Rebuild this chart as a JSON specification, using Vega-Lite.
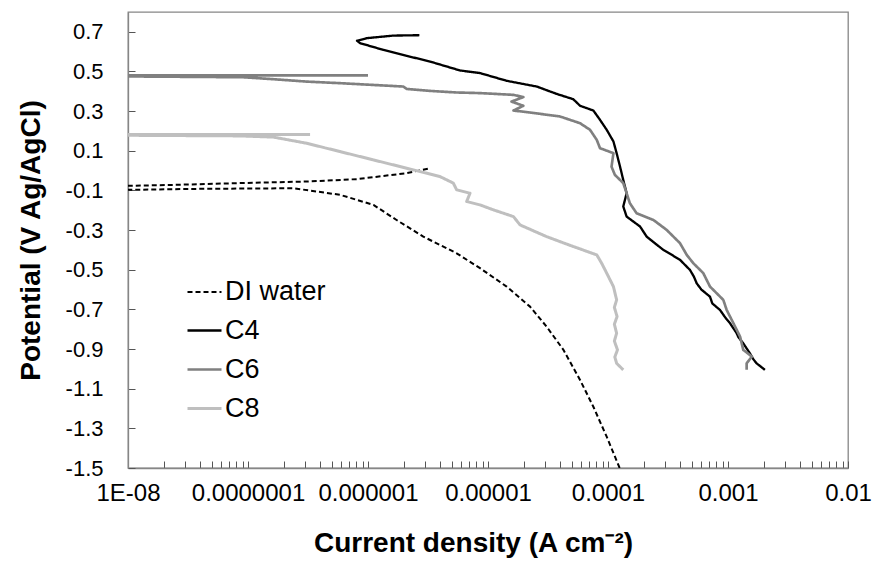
{
  "$schema": "https://vega.github.io/schema/vega-lite/v6.json",
  "width": 720,
  "height": 456,
  "autosize": {"type": "none"},
  "padding": {"left": 128, "top": 12, "right": 25, "bottom": 97},
  "background": "white",
  "config": {
    "font": "Liberation Sans",
    "view": {"stroke": "#868686", "strokeWidth": 1.3},
    "axis": {
      "grid": false,
      "domainColor": "#868686",
      "domainWidth": 1.3,
      "tickColor": "#555555",
      "tickWidth": 1,
      "tickSize": -7,
      "labelColor": "#000000",
      "labelFont": "Liberation Sans",
      "labelFontSize": 22,
      "titleFont": "Liberation Sans",
      "titleFontSize": 28,
      "titleFontWeight": "bold",
      "titleColor": "#000000"
    },
    "legend": {
      "symbolType": "stroke",
      "symbolSize": 1156,
      "labelFont": "Liberation Sans",
      "labelFontSize": 27,
      "labelColor": "#000000",
      "labelOffset": 2,
      "rowPadding": 7
    }
  },
  "data": {
    "values": [
      {"s": "DI water", "i": 1, "j": 1.25e-4, "E": -1.5},
      {"s": "DI water", "i": 2, "j": 9.75e-5, "E": -1.342},
      {"s": "DI water", "i": 3, "j": 7.55e-5, "E": -1.191},
      {"s": "DI water", "i": 4, "j": 5.85e-5, "E": -1.056},
      {"s": "DI water", "i": 5, "j": 4.25e-5, "E": -0.904},
      {"s": "DI water", "i": 6, "j": 3.08e-5, "E": -0.787},
      {"s": "DI water", "i": 7, "j": 2.24e-5, "E": -0.686},
      {"s": "DI water", "i": 8, "j": 1.43e-5, "E": -0.585},
      {"s": "DI water", "i": 9, "j": 8.58e-6, "E": -0.492},
      {"s": "DI water", "i": 10, "j": 5.48e-6, "E": -0.417},
      {"s": "DI water", "i": 11, "j": 2.89e-6, "E": -0.333},
      {"s": "DI water", "i": 12, "j": 1.73e-6, "E": -0.249},
      {"s": "DI water", "i": 13, "j": 1.11e-6, "E": -0.173},
      {"s": "DI water", "i": 14, "j": 5.85e-7, "E": -0.122},
      {"s": "DI water", "i": 15, "j": 2.39e-7, "E": -0.089},
      {"s": "DI water", "i": 16, "j": 4e-8, "E": -0.092},
      {"s": "DI water", "i": 17, "j": 1e-8, "E": -0.097},
      {"s": "DI water", "i": 18, "j": 1e-8, "E": -0.077},
      {"s": "DI water", "i": 19, "j": 2.39e-8, "E": -0.072},
      {"s": "DI water", "i": 20, "j": 8.58e-8, "E": -0.063},
      {"s": "DI water", "i": 21, "j": 3.08e-7, "E": -0.055},
      {"s": "DI water", "i": 22, "j": 8.06e-7, "E": -0.043},
      {"s": "DI water", "i": 23, "j": 2.1e-6, "E": -0.013},
      {"s": "DI water", "i": 24, "j": 3.29e-6, "E": 0.012},

      {"s": "C4", "i": 1, "j": 2.03e-3, "E": -1.005},
      {"s": "C4", "i": 2, "j": 1.73e-3, "E": -0.972},
      {"s": "C4", "i": 3, "j": 1.62e-3, "E": -0.95},
      {"s": "C4", "i": 4, "j": 1.52e-3, "E": -0.921},
      {"s": "C4", "i": 5, "j": 1.34e-3, "E": -0.871},
      {"s": "C4", "i": 6, "j": 1.22e-3, "E": -0.84},
      {"s": "C4", "i": 7, "j": 1.18e-3, "E": -0.82},
      {"s": "C4", "i": 8, "j": 1.04e-3, "E": -0.77},
      {"s": "C4", "i": 9, "j": 9.6e-4, "E": -0.745},
      {"s": "C4", "i": 10, "j": 8.58e-4, "E": -0.703},
      {"s": "C4", "i": 11, "j": 7.4e-4, "E": -0.67},
      {"s": "C4", "i": 12, "j": 7.08e-4, "E": -0.636},
      {"s": "C4", "i": 13, "j": 6.0e-4, "E": -0.6},
      {"s": "C4", "i": 14, "j": 5.48e-4, "E": -0.568},
      {"s": "C4", "i": 15, "j": 5.2e-4, "E": -0.535},
      {"s": "C4", "i": 16, "j": 4.82e-4, "E": -0.501},
      {"s": "C4", "i": 17, "j": 3.98e-4, "E": -0.45},
      {"s": "C4", "i": 18, "j": 3.4e-4, "E": -0.425},
      {"s": "C4", "i": 19, "j": 2.89e-4, "E": -0.4},
      {"s": "C4", "i": 20, "j": 2.1e-4, "E": -0.333},
      {"s": "C4", "i": 21, "j": 1.85e-4, "E": -0.282},
      {"s": "C4", "i": 22, "j": 1.43e-4, "E": -0.232},
      {"s": "C4", "i": 23, "j": 1.34e-4, "E": -0.181},
      {"s": "C4", "i": 24, "j": 1.43e-4, "E": -0.114},
      {"s": "C4", "i": 25, "j": 1.34e-4, "E": -0.047},
      {"s": "C4", "i": 26, "j": 1.26e-4, "E": 0.02},
      {"s": "C4", "i": 27, "j": 1.18e-4, "E": 0.088},
      {"s": "C4", "i": 28, "j": 1.11e-4, "E": 0.147},
      {"s": "C4", "i": 29, "j": 9.75e-5, "E": 0.206},
      {"s": "C4", "i": 30, "j": 8.58e-5, "E": 0.256},
      {"s": "C4", "i": 31, "j": 7.55e-5, "E": 0.303},
      {"s": "C4", "i": 32, "j": 5.85e-5, "E": 0.327},
      {"s": "C4", "i": 33, "j": 5.14e-5, "E": 0.36},
      {"s": "C4", "i": 34, "j": 3.73e-5, "E": 0.387},
      {"s": "C4", "i": 35, "j": 2.55e-5, "E": 0.424},
      {"s": "C4", "i": 36, "j": 1.43e-5, "E": 0.453},
      {"s": "C4", "i": 37, "j": 8.58e-6, "E": 0.492},
      {"s": "C4", "i": 38, "j": 5.85e-6, "E": 0.505},
      {"s": "C4", "i": 39, "j": 3.29e-6, "E": 0.55},
      {"s": "C4", "i": 40, "j": 2.1e-6, "E": 0.579},
      {"s": "C4", "i": 41, "j": 1.34e-6, "E": 0.609},
      {"s": "C4", "i": 42, "j": 8.58e-7, "E": 0.643},
      {"s": "C4", "i": 43, "j": 8.1e-7, "E": 0.655},
      {"s": "C4", "i": 44, "j": 9.75e-7, "E": 0.668},
      {"s": "C4", "i": 45, "j": 1.63e-6, "E": 0.681},
      {"s": "C4", "i": 46, "j": 2.68e-6, "E": 0.683},

      {"s": "C6", "i": 1, "j": 1.43e-3, "E": -1.005},
      {"s": "C6", "i": 2, "j": 1.43e-3, "E": -0.972},
      {"s": "C6", "i": 3, "j": 1.58e-3, "E": -0.938},
      {"s": "C6", "i": 4, "j": 1.34e-3, "E": -0.904},
      {"s": "C6", "i": 5, "j": 1.26e-3, "E": -0.837},
      {"s": "C6", "i": 6, "j": 1.11e-3, "E": -0.77},
      {"s": "C6", "i": 7, "j": 9.75e-4, "E": -0.703},
      {"s": "C6", "i": 8, "j": 9.14e-4, "E": -0.652},
      {"s": "C6", "i": 9, "j": 7.08e-4, "E": -0.585},
      {"s": "C6", "i": 10, "j": 6.22e-4, "E": -0.517},
      {"s": "C6", "i": 11, "j": 5.14e-4, "E": -0.467},
      {"s": "C6", "i": 12, "j": 4.53e-4, "E": -0.425},
      {"s": "C6", "i": 13, "j": 3.98e-4, "E": -0.366},
      {"s": "C6", "i": 14, "j": 3.08e-4, "E": -0.299},
      {"s": "C6", "i": 15, "j": 2.39e-4, "E": -0.249},
      {"s": "C6", "i": 16, "j": 1.73e-4, "E": -0.215},
      {"s": "C6", "i": 17, "j": 1.52e-4, "E": -0.164},
      {"s": "C6", "i": 18, "j": 1.43e-4, "E": -0.114},
      {"s": "C6", "i": 19, "j": 1.34e-4, "E": -0.063},
      {"s": "C6", "i": 20, "j": 1.14e-4, "E": -0.021},
      {"s": "C6", "i": 21, "j": 1.07e-4, "E": 0.02},
      {"s": "C6", "i": 22, "j": 1.11e-4, "E": 0.088},
      {"s": "C6", "i": 23, "j": 8.58e-5, "E": 0.113},
      {"s": "C6", "i": 24, "j": 8.06e-5, "E": 0.155},
      {"s": "C6", "i": 25, "j": 7.08e-5, "E": 0.206},
      {"s": "C6", "i": 26, "j": 5.85e-5, "E": 0.239},
      {"s": "C6", "i": 27, "j": 3.98e-5, "E": 0.273},
      {"s": "C6", "i": 28, "j": 2.24e-5, "E": 0.293},
      {"s": "C6", "i": 29, "j": 1.63e-5, "E": 0.303},
      {"s": "C6", "i": 30, "j": 1.97e-5, "E": 0.327},
      {"s": "C6", "i": 31, "j": 1.57e-5, "E": 0.348},
      {"s": "C6", "i": 32, "j": 1.97e-5, "E": 0.371},
      {"s": "C6", "i": 33, "j": 1.63e-5, "E": 0.382},
      {"s": "C6", "i": 34, "j": 8.58e-6, "E": 0.391},
      {"s": "C6", "i": 35, "j": 5.48e-6, "E": 0.394},
      {"s": "C6", "i": 36, "j": 3.29e-6, "E": 0.402},
      {"s": "C6", "i": 37, "j": 2.1e-6, "E": 0.412},
      {"s": "C6", "i": 38, "j": 1.97e-6, "E": 0.424},
      {"s": "C6", "i": 39, "j": 5.85e-7, "E": 0.441},
      {"s": "C6", "i": 40, "j": 3.08e-7, "E": 0.449},
      {"s": "C6", "i": 41, "j": 1.63e-7, "E": 0.461},
      {"s": "C6", "i": 42, "j": 9.14e-8, "E": 0.471},
      {"s": "C6", "i": 43, "j": 1e-8, "E": 0.475},
      {"s": "C6", "i": 44, "j": 1e-8, "E": 0.48},
      {"s": "C6", "i": 45, "j": 1e-6, "E": 0.48},

      {"s": "C8", "i": 1, "j": 1.34e-4, "E": -1.005},
      {"s": "C8", "i": 2, "j": 1.18e-4, "E": -0.972},
      {"s": "C8", "i": 3, "j": 1.14e-4, "E": -0.94},
      {"s": "C8", "i": 4, "j": 1.2e-4, "E": -0.904},
      {"s": "C8", "i": 5, "j": 1.13e-4, "E": -0.86},
      {"s": "C8", "i": 6, "j": 1.18e-4, "E": -0.82},
      {"s": "C8", "i": 7, "j": 1.13e-4, "E": -0.775},
      {"s": "C8", "i": 8, "j": 1.19e-4, "E": -0.736},
      {"s": "C8", "i": 9, "j": 1.13e-4, "E": -0.69},
      {"s": "C8", "i": 10, "j": 1.18e-4, "E": -0.652},
      {"s": "C8", "i": 11, "j": 1.11e-4, "E": -0.585},
      {"s": "C8", "i": 12, "j": 9.75e-5, "E": -0.517},
      {"s": "C8", "i": 13, "j": 8.85e-5, "E": -0.467},
      {"s": "C8", "i": 14, "j": 8.06e-5, "E": -0.425},
      {"s": "C8", "i": 15, "j": 5.14e-5, "E": -0.383},
      {"s": "C8", "i": 16, "j": 3.08e-5, "E": -0.333},
      {"s": "C8", "i": 17, "j": 1.85e-5, "E": -0.274},
      {"s": "C8", "i": 18, "j": 1.63e-5, "E": -0.232},
      {"s": "C8", "i": 19, "j": 1.11e-5, "E": -0.198},
      {"s": "C8", "i": 20, "j": 8.58e-6, "E": -0.173},
      {"s": "C8", "i": 21, "j": 6.64e-6, "E": -0.156},
      {"s": "C8", "i": 22, "j": 7.08e-6, "E": -0.114},
      {"s": "C8", "i": 23, "j": 5.48e-6, "E": -0.097},
      {"s": "C8", "i": 24, "j": 5.14e-6, "E": -0.063},
      {"s": "C8", "i": 25, "j": 3.98e-6, "E": -0.03},
      {"s": "C8", "i": 26, "j": 2.1e-6, "E": 0.012},
      {"s": "C8", "i": 27, "j": 1.11e-6, "E": 0.054},
      {"s": "C8", "i": 28, "j": 5.85e-7, "E": 0.096},
      {"s": "C8", "i": 29, "j": 3.08e-7, "E": 0.138},
      {"s": "C8", "i": 30, "j": 1.63e-7, "E": 0.169},
      {"s": "C8", "i": 31, "j": 8.58e-8, "E": 0.175},
      {"s": "C8", "i": 32, "j": 1e-8, "E": 0.178},
      {"s": "C8", "i": 33, "j": 1e-8, "E": 0.182},
      {"s": "C8", "i": 34, "j": 3.29e-7, "E": 0.182}
    ]
  },
  "mark": {"type": "line", "clip": true, "strokeJoin": "round"},
  "encoding": {
    "x": {
      "field": "j",
      "type": "quantitative",
      "scale": {"type": "log", "domain": [1e-8, 0.01], "nice": false},
      "axis": {
        "title": "Current density (A cm⁻²)",
        "values": [1e-8, 2e-8, 3e-8, 4e-8, 5e-8, 6e-8, 7e-8, 8e-8, 9e-8,
                   1e-7, 2e-7, 3e-7, 4e-7, 5e-7, 6e-7, 7e-7, 8e-7, 9e-7,
                   1e-6, 2e-6, 3e-6, 4e-6, 5e-6, 6e-6, 7e-6, 8e-6, 9e-6,
                   1e-5, 2e-5, 3e-5, 4e-5, 5e-5, 6e-5, 7e-5, 8e-5, 9e-5,
                   1e-4, 2e-4, 3e-4, 4e-4, 5e-4, 6e-4, 7e-4, 8e-4, 9e-4,
                   1e-3, 2e-3, 3e-3, 4e-3, 5e-3, 6e-3, 7e-3, 8e-3, 9e-3, 1e-2],
        "labelExpr": "datum.value < 1.5e-8 ? '1E-08' : (abs(log(datum.value)/LN10 - round(log(datum.value)/LN10)) < 0.001 ? format(datum.value, '.8~f') : '')",
        "labelOverlap": false,
        "labelFlush": false,
        "labelFontSize": 24,
        "labelPadding": 20,
        "titlePadding": 24,
        "titleX": 345
      }
    },
    "y": {
      "field": "E",
      "type": "quantitative",
      "scale": {"domain": [-1.5, 0.8], "nice": false, "zero": false},
      "axis": {
        "title": "Potential (V Ag/AgCl)",
        "values": [-1.5, -1.3, -1.1, -0.9, -0.7, -0.5, -0.3, -0.1, 0.1, 0.3, 0.5, 0.7],
        "labelExpr": "replace(format(datum.value, '.1f'), '−', '-')",
        "labelPadding": 32,
        "titlePadding": 20
      }
    },
    "color": {
      "field": "s",
      "type": "nominal",
      "scale": {"domain": ["DI water", "C4", "C6", "C8"], "range": ["#000000", "#000000", "#808080", "#bfbfbf"]},
      "legend": {"title": null, "orient": "none", "legendX": 58, "legendY": 262}
    },
    "strokeDash": {
      "field": "s",
      "type": "nominal",
      "scale": {"domain": ["DI water", "C4", "C6", "C8"], "range": [[5, 3], [1, 0], [1, 0], [1, 0]]},
      "legend": {"title": null, "orient": "none", "legendX": 58, "legendY": 262}
    },
    "strokeWidth": {
      "field": "s",
      "type": "nominal",
      "scale": {"domain": ["DI water", "C4", "C6", "C8"], "range": [2, 3, 3, 3]},
      "legend": {"title": null, "orient": "none", "legendX": 58, "legendY": 262}
    },
    "order": {"field": "i", "type": "quantitative"}
  }
}
